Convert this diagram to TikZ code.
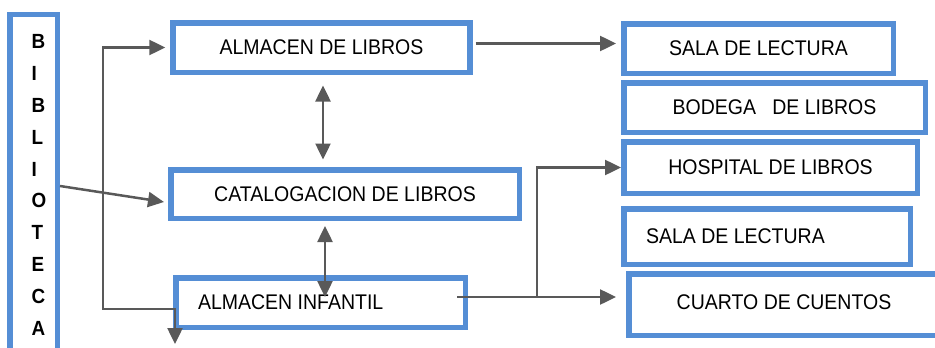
\documentclass[tikz,border=0pt]{standalone}
\usepackage{fontspec}
\setmainfont{Liberation Sans}[FakeStretch=0.92]
\usepackage{tikz}
\usetikzlibrary{arrows.meta}
\usetikzlibrary{calc}
\usetikzlibrary{positioning}

\definecolor{boxblue}{RGB}{85,142,213}
\definecolor{linegray}{RGB}{89,89,89}

\tikzset{
  blk/.style={draw=boxblue, line width=5.5pt, inner sep=0pt, minimum height=49.5pt, font=\fontsize{21.2}{24}\selectfont},
  con/.style={draw=linegray, line width=2.5pt},
  >={Triangle[length=16pt,width=15pt]}
}

\begin{document}
\begin{tikzpicture}[x=1pt,y=-1pt]
        \useasboundingbox (0,0) rectangle (935,348);
        \clip (0,0) rectangle (935,348);

        % left column
        \node[blk, minimum width=47.5pt, minimum height=343pt] (bib) at (33.5,186) {};
        \node[anchor=west, inner sep=0pt, align=left, font=\bfseries\fontsize{20.5}{31.8}\selectfont] (bibtxt) at (31.5,185) {B\\I\\B\\L\\I\\O\\T\\E\\C\\A};

        % middle column
        \node[blk, minimum width=297pt] (alm) at (321.5,47.5) {ALMACEN DE LIBROS};
        \node[blk, minimum width=348.5pt, minimum height=48.5pt] (cat) at (345,194) {CATALOGACION DE LIBROS};
        \node[blk, minimum width=289.5pt] (inf) at (320.5,302.5) {\makebox[245pt][l]{ALMACEN INFANTIL}};

        % right column
        \node[blk, minimum width=269.5pt] (sala1) at (758.5,48.5) {SALA DE LECTURA};
        \node[blk, minimum width=301.5pt] (bod) at (774.5,107.5) {BODEGA\ \ \ DE LIBROS};
        \node[blk, minimum width=293.5pt, minimum height=51.5pt] (hosp) at (770.5,167.5) {HOSPITAL DE LIBROS};
        \node[blk, minimum width=286.5pt, minimum height=55.5pt] (sala2) at (767,236.5) {\makebox[242pt][l]{SALA DE LECTURA}};
        \node[blk, minimum width=310.5pt, minimum height=61.5pt] (cuarto) at (784,304.5) {\raisebox{4pt}{CUARTO DE CUENTOS}};

        % connectors
        \draw[con,->] (bib.east) -- ($(cat.west)+(-4,8)$);
        \coordinate (down) at (175,344);
        \coordinate (turn) at (103,309);
        \draw[con,<->] (down) |- (turn) |- ($(alm.west)+(-5,0)$);
        \draw[con,->] ($(alm.east)+(2.75,-4)$) -- ($(alm.east -| sala1.west)+(-5,-4)$);
        \draw[con,<->] ($(alm.south)+(1.5,10.5)$) -- ($(alm.south |- cat.north)+(1.5,-7.5)$);
        \draw[con,<->] ($(cat.south -| inf.north)+(4.5,5)$) -- ($(inf.center)+(4.5,-5.5)$);
        \coordinate (infout) at (457,297);
        \coordinate (split) at (537,297);
        \draw[con,->] (infout) -- ($(infout -| cuarto.west)+(-10,0)$);
        \draw[con,->] (split) |- (hosp.west);
\end{tikzpicture}
\end{document}
